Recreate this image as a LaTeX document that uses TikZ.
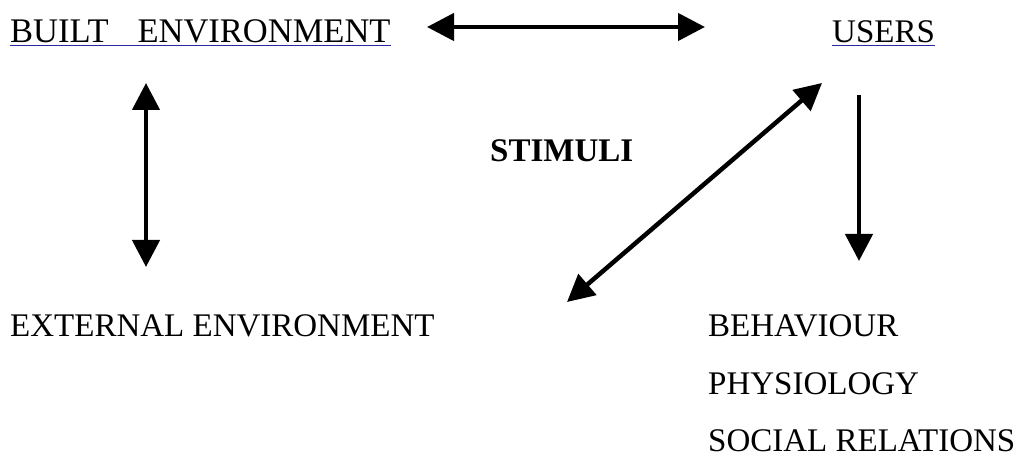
\documentclass[tikz,border=0pt]{standalone}
\usepackage{fontspec}
\setmainfont{Liberation Serif}
\usetikzlibrary{arrows.meta}
\definecolor{ulblue}{RGB}{40,40,165}
\begin{document}
\begin{tikzpicture}[x=1pt,y=-1pt,
    txt/.style={anchor=base west,inner sep=0pt,font=\fontsize{33}{40}\selectfont},
    arr/.style={line width=4.5pt,{Triangle[length=27pt,width=27pt]}-{Triangle[length=27pt,width=27pt]}},
    uline/.style={ulblue,line width=1.5pt}]
      \useasboundingbox (0,0) rectangle (1021,457);
      \node[txt,font=\fontsize{34.5}{40}\selectfont] (built) at (10,43) {BUILT\hspace{29pt}ENVIRONMENT};
      \node[txt] (users) at (832,43) {USERS};
      \node[txt,font=\fontsize{33}{40}\selectfont\bfseries] (stim) at (490,162) {STIMULI};
      \node[txt] (ext) at (10,337) {EXTERNAL ENVIRONMENT};
      \foreach \t/\y [count=\i] in {BEHAVIOUR/337,PHYSIOLOGY/395,SOCIAL RELATIONS/451} {%
        \node[txt] (out\i) at (708,\y) {\t};
      }
      \draw[uline] ([yshift=-2pt]built.south west) -- ([yshift=-2pt]built.south east);
      \draw[uline] ([yshift=-2pt]users.south west) -- ([yshift=-2pt]users.south east);
      % arrow ends
      \coordinate (a1) at (427,27); \coordinate (a2) at (705,27);
      \coordinate (b1) at (146,83); \coordinate (b2) at (146,267);
      \coordinate (c1) at (567,302); \coordinate (c2) at (822,83);
      \coordinate (d1) at (859,95); \coordinate (d2) at (859,261);
      \draw[arr] (a1) -- (a2);
      \draw[arr] (b1) -- (b2);
      \draw[arr] (c1) -- (c2);
      \draw[line width=4.5pt,-{Triangle[length=27pt,width=27pt]}] (d1) -- (d2);
    \end{tikzpicture}
\end{document}
